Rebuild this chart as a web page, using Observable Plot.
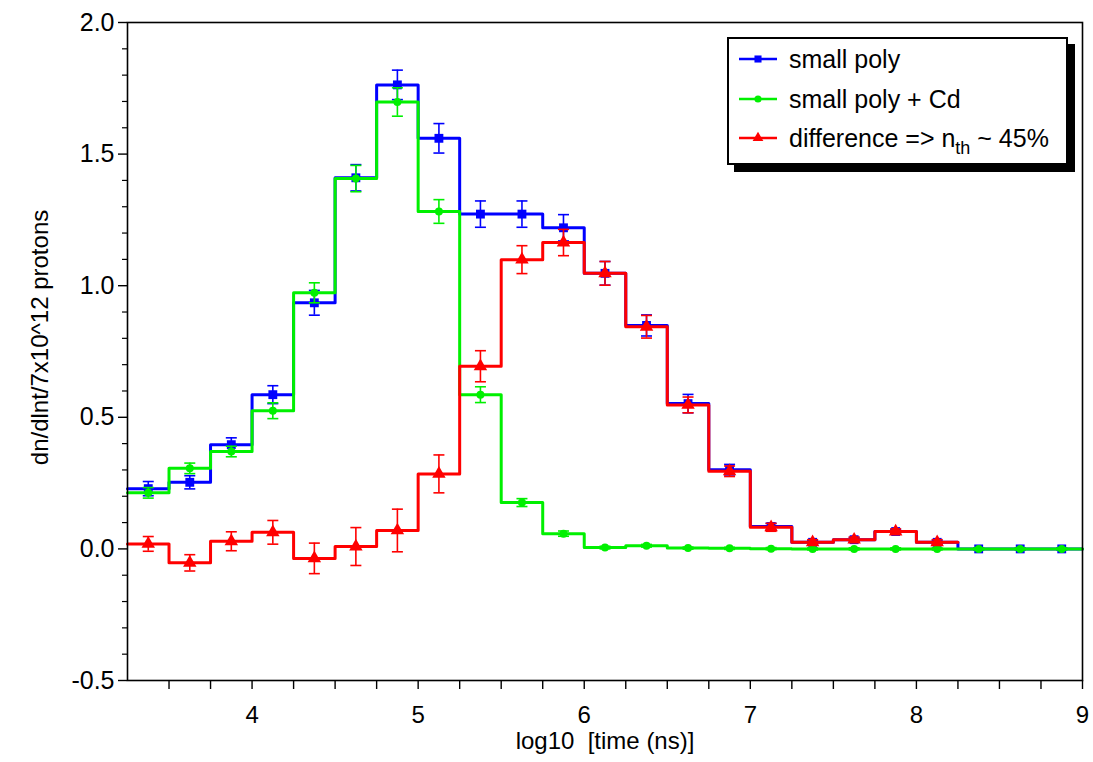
<!DOCTYPE html>
<html><head><meta charset="utf-8">
<script src="https://cdn.jsdelivr.net/npm/d3@7"></script>
<script src="https://cdn.jsdelivr.net/npm/@observablehq/plot@0.6"></script>
<style>
body{margin:0;background:#fff;}
#wrap{position:relative;width:1093px;height:762px;font-family:"Liberation Sans",Arial,Helvetica,sans-serif;}
.legend{position:absolute;left:727px;top:37px;width:337px;height:124px;border:2px solid #000;background:#fff;box-shadow:7px 7px 0 #000;}
.row{position:absolute;left:0;height:30px;display:flex;align-items:center;}
.row svg{margin-left:10px;margin-right:12px;}
.row span{font-size:25px;color:#000;white-space:nowrap;}
.row sub{font-size:18px;vertical-align:-7px;line-height:0;}
</style></head><body><div id="wrap"></div><script>
// ---- data ----
const binCenters = [3.375,3.625,3.875,4.125,4.375,4.625,4.875,5.125,5.375,5.625,5.875,6.125,6.375,6.625,6.875,7.125,7.375,7.625,7.875,8.125,8.375,8.625,8.875];
const binWidth = 0.25;
const smallPoly    = [0.229,0.253,0.396,0.586,0.935,1.41,1.763,1.560,1.272,1.272,1.220,1.047,0.849,0.552,0.301,0.085,0.025,0.035,0.066,0.025,0,0,0];
const smallPolyErr = [0.027,0.025,0.026,0.034,0.047,0.05,0.056,0.056,0.05,0.05,0.05,0.045,0.04,0.035,0.02,0.012,0.008,0.008,0.008,0.008,0.004,0.004,0.004];
const smallPolyCd    = [0.213,0.306,0.370,0.525,0.973,1.407,1.698,1.282,0.586,0.176,0.058,0.005,0.012,0.003,0.002,0.001,0,0,0,0,0,0,0];
const smallPolyCdErr = [0.02,0.02,0.02,0.03,0.038,0.05,0.054,0.045,0.03,0.015,0.01,0.005,0.005,0.004,0.004,0.004,0.004,0.004,0.004,0.004,0.004,0.004,0.004];
const difference    = [0.019,-0.053,0.029,0.063,-0.036,0.009,0.07,0.285,0.694,1.099,1.164,1.047,0.844,0.547,0.295,0.082,0.025,0.035,0.066,0.025];
const differenceErr = [0.028,0.031,0.036,0.045,0.058,0.072,0.081,0.072,0.059,0.053,0.05,0.045,0.043,0.03,0.02,0.015,0.01,0.01,0.01,0.01];
const seriesNames = ["small poly","small poly + Cd","difference => n_th ~ 45%"];
const seriesColors = ["#0000ff","#00f000","#ff0000"];
const seriesSymbols = ["square","circle","triangle"];
const xTicks = [3.5,3.75,4,4.25,4.5,4.75,5,5.25,5.5,5.75,6,6.25,6.5,6.75,7,7.25,7.5,7.75,8,8.25,8.5,8.75,9];
const xLabelled = [4,5,6,7,8,9];
const yMajor = [-0.5,0,0.5,1.0,1.5,2.0];
const yMinor = [-0.4,-0.3,-0.2,-0.1,0.1,0.2,0.3,0.4,0.6,0.7,0.8,0.9,1.1,1.2,1.3,1.4,1.6,1.7,1.8,1.9];
const xTitle = "log10\u00a0\u00a0[time (ns)]";
const yTitle = "dn/dlnt/7x10^12 protons";

// ---- build tables ----
function pts(vals, errs, name){
  return vals.map((v,i)=>({x:binCenters[i], y:v, lo:v-errs[i], hi:v+errs[i], name}));
}
function steps(vals){
  const out=[];
  vals.forEach((v,i)=>{ out.push({x:binCenters[i]-binWidth/2,y:v}); out.push({x:binCenters[i]+binWidth/2,y:v}); });
  return out;
}
const series = [
  {p:pts(smallPoly,smallPolyErr,seriesNames[0]), s:steps(smallPoly)},
  {p:pts(smallPolyCd,smallPolyCdErr,seriesNames[1]), s:steps(smallPolyCd)},
  {p:pts(difference,differenceErr,seriesNames[2]), s:steps(difference)}
];
const cap = {draw(ctx,size){const w=Math.sqrt(size/Math.PI); ctx.moveTo(-w,0); ctx.lineTo(w,0);}};

const marks = [];
series.forEach((se,k)=>{
  const c = seriesColors[k];
  marks.push(Plot.line(se.s,{x:"x",y:"y",stroke:c,strokeWidth:3,curve:"linear"}));
  marks.push(Plot.ruleX(se.p,{x:"x",y1:"lo",y2:"hi",stroke:c,strokeWidth:1.6}));
  marks.push(Plot.dot(se.p,{x:"x",y:"lo",symbol:cap,r:5.5,stroke:c,strokeWidth:1.6,fill:"none"}));
  marks.push(Plot.dot(se.p,{x:"x",y:"hi",symbol:cap,r:5.5,stroke:c,strokeWidth:1.6,fill:"none"}));
  marks.push(Plot.dot(se.p,{x:"x",y:"y",symbol:seriesSymbols[k],r:k===1?4:5,fill:c,stroke:"none"}));
});

const chart = Plot.plot({
  width:1093, height:762,
  marginLeft:127, marginRight:11, marginTop:22, marginBottom:82,
  style:{fontFamily:"'Liberation Sans',Arial,Helvetica,sans-serif",background:"#fff",color:"#000"},
  x:{domain:[3.25,9]},
  y:{domain:[-0.5,2.0]},
  marks:[
    ...marks,
    Plot.frame({stroke:"#000",strokeWidth:1.6}),
    Plot.axisX({ticks:xTicks,tickSize:9,tickPadding:16,strokeWidth:1.4,fontSize:24,tickFormat:d=>xLabelled.includes(d)?String(d):"",label:null}),
    Plot.axisY({ticks:yMajor,tickSize:9,tickPadding:4,strokeWidth:1.4,fontSize:25,tickFormat:d=>d.toFixed(1),label:null}),
    Plot.axisY({ticks:yMinor,tickSize:5,strokeWidth:1.2,tickFormat:()=>"",label:null}),
    Plot.text([xTitle],{text:d=>d,frameAnchor:"bottom",dy:68,fontSize:24}),
    Plot.text([yTitle],{text:d=>d,frameAnchor:"left",textAnchor:"middle",dx:-87,dy:-14,rotate:-90,fontSize:24})
  ]
});
const wrap = document.getElementById("wrap");
wrap.appendChild(chart);

// ---- legend ----
const leg = document.createElement("div");
leg.className="legend";
const rowTops=[5,45,84];
seriesNames.forEach((n,k)=>{
  const row=document.createElement("div");
  row.className="row"; row.style.top=rowTops[k]+"px";
  const sym = d3.symbol(d3["symbol"+seriesSymbols[k][0].toUpperCase()+seriesSymbols[k].slice(1)], k===1?40:50)();
  row.innerHTML = `<svg width="38" height="20"><line x1="0" y1="10" x2="38" y2="10" stroke="${seriesColors[k]}" stroke-width="2.5"/><path transform="translate(19,10)" d="${sym}" fill="${seriesColors[k]}"/></svg>`;
  const sp=document.createElement("span");
  if(n.includes("n_th")){ sp.innerHTML = "difference =&gt; n<sub>th</sub> ~ 45%"; } else sp.textContent=n;
  row.appendChild(sp);
  leg.appendChild(row);
});
wrap.appendChild(leg);
</script></body></html>
